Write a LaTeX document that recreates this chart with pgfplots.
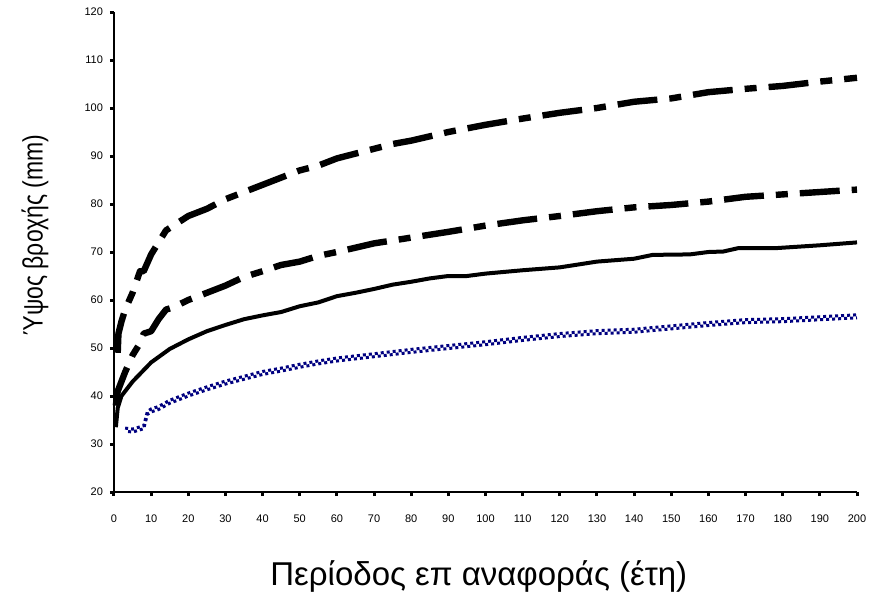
\documentclass[border=0pt]{standalone}
\usepackage{fontspec}
\setmainfont{Liberation Sans}
\usepackage{pgfplots}
\usepackage{pgfplotstable}
\pgfplotsset{compat=1.18}

\definecolor{navyb}{RGB}{0,0,128}

% return periods (years) vs rainfall depth (mm)
\pgfplotstableread{
x y
1 49
1.2 53
2 55.5
3 58
5 61.5
7 66
8 66
10 69.5
12 72
14 74.5
15 75
20 77.5
25 79
30 81
35 82.5
40 84
45 85.5
50 87
55 88
60 89.5
65 90.5
70 91.5
75 92.5
80 93.2
90 95
100 96.5
110 97.8
120 99
130 100
140 101.3
150 102
160 103.3
170 104
180 104.6
190 105.5
200 106.3
}\tabupper

\pgfplotstableread{
x y
0.5 38
1 41
2 43
3 45
5 48.5
7 51
8 53
10 53.5
12 56
14 58
16 58.5
20 60
25 61.5
30 63
35 64.8
40 66
45 67.3
50 68
55 69.2
60 70
70 71.8
80 73
90 74.2
100 75.5
110 76.6
120 77.5
130 78.5
140 79.3
150 79.8
160 80.5
170 81.5
180 82
190 82.5
200 83
}\tabmid

\pgfplotstableread{
x y
0.5 33.5
1 37.5
2 40
5 43
10 47
15 49.8
20 51.8
25 53.5
30 54.8
35 56
40 56.8
45 57.5
50 58.7
55 59.5
60 60.8
65 61.5
70 62.3
75 63.2
80 63.8
85 64.5
90 65
95 65
100 65.5
110 66.2
120 66.8
130 68
140 68.6
145 69.4
155 69.5
160 70
164 70.1
168 70.8
178 70.8
190 71.4
200 72
}\tabsolid

\pgfplotstableread{
x y
3 33
5 32.8
8 33.5
9 36.5
10 37
12 37.5
15 38.8
20 40.3
25 41.6
30 42.8
35 43.8
40 44.8
45 45.5
50 46.3
55 47
60 47.6
70 48.5
80 49.4
90 50.2
100 51
110 51.9
120 52.7
130 53.3
140 53.6
150 54.3
160 55
170 55.6
180 55.8
190 56.2
200 56.6
}\tablow

\begin{document}
\begin{tikzpicture}
\useasboundingbox (-57pt,-49.5pt) rectangle (379.5pt,246pt);
\begin{axis}[
    scale only axis,
    width=371.5pt, height=240pt,
    xmin=0, xmax=200, ymin=20, ymax=120,
    xtick={0,10,...,200},
    ytick={20,30,...,120},
    axis x line*=bottom,
    axis y line*=left,
    axis line style={line width=1.3pt},
    tick align=outside,
    major tick length=2pt,
    tick style={line width=1.5pt, black},
    ticklabel style={font=\fontsize{5.5}{6}\selectfont},
    /pgf/number format/assume math mode=true,
    xticklabel style={yshift=-6pt},
    xlabel={Περίοδος επ αναφοράς (έτη)},
    ylabel={\scalebox{0.82}[1]{Ύψος βροχής (mm)}},
    xlabel style={font=\fontsize{16.5}{18}\selectfont,
        at={(axis description cs:0.491,0)}, anchor=base, yshift=-46.5pt},
    ylabel style={font=\fontsize{14}{16}\selectfont,
        at={(axis description cs:-0.1063,0.535)}, anchor=center},
    clip=false,
]
\addplot[black, line width=3.2pt, line join=round,
    dash pattern=on 20pt off 6pt on 6pt off 6pt] table {\tabupper};
\addplot[black, line width=3.2pt, line join=round,
    dash pattern=on 20pt off 6pt on 6pt off 6pt] table {\tabmid};
\addplot[black, line width=2pt, line join=round] table {\tabsolid};
\addplot[navyb, line width=1.5pt, yshift=0.75pt,
    dash pattern=on 1.5pt off 1.5pt] table {\tablow};
\addplot[navyb, line width=1.5pt, yshift=-0.75pt,
    dash pattern=on 1.5pt off 1.5pt, dash phase=1.5pt] table {\tablow};
\end{axis}
\end{tikzpicture}
\end{document}
